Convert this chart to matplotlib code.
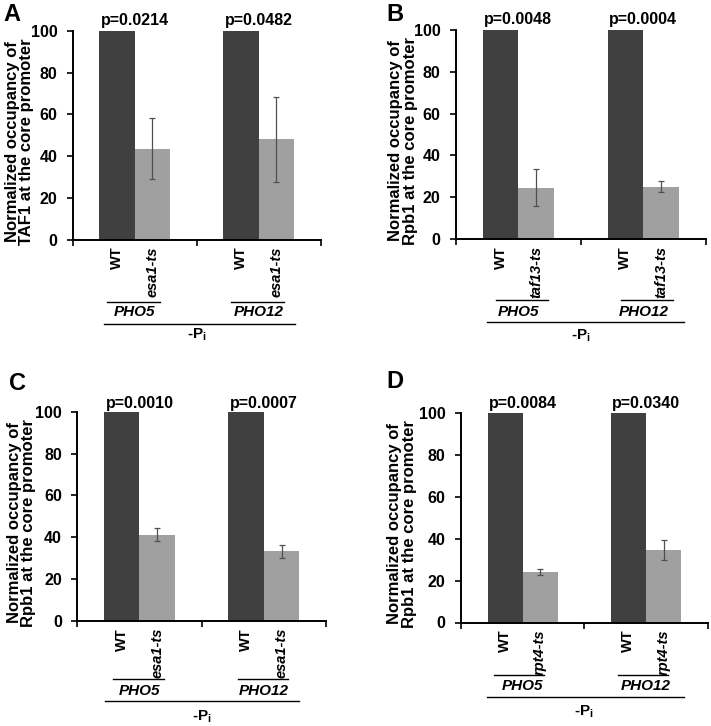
import matplotlib
matplotlib.use("Agg")
import matplotlib.pyplot as plt
import matplotlib.transforms as mtransforms

plt.rcParams['font.family'] = ['Liberation Sans', 'DejaVu Sans']
plt.rcParams['font.weight'] = 'bold'

# ---------------- data ----------------
groups = ['PHO5', 'PHO12']
panel_letters = ['A', 'B', 'C', 'D']
mutant_names = ['esa1-ts', 'taf13-ts', 'esa1-ts', 'rpt4-ts']
ylabels = ['Normalized occupancy of\nTAF1 at the core promoter',
           'Normalized occupancy of\nRpb1 at the core promoter',
           'Normalized occupancy of\nRpb1 at the core promoter',
           'Normalized occupancy of\nRpb1 at the core promoter']
wt_A = [100, 100]
wt_B = [100, 100]
wt_C = [100, 100]
wt_D = [100, 100]
mut_A = [43.6, 48.0]
mut_B = [24.6, 25.0]
mut_C = [41.3, 33.3]
mut_D = [24.0, 34.5]
err_A = [14.5, 20.5]
err_B = [9.0, 2.6]
err_C = [3.2, 3.0]
err_D = [1.3, 4.9]
pvals_A = ['p=0.0214', 'p=0.0482']
pvals_B = ['p=0.0048', 'p=0.0004']
pvals_C = ['p=0.0010', 'p=0.0007']
pvals_D = ['p=0.0084', 'p=0.0340']
yticks = [0, 20, 40, 60, 80, 100]
condition = '-P$_\\mathregular{i}$'

wt_all = [wt_A, wt_B, wt_C, wt_D]
mut_all = [mut_A, mut_B, mut_C, mut_D]
err_all = [err_A, err_B, err_C, err_D]
pv_all = [pvals_A, pvals_B, pvals_C, pvals_D]

# ---------------- layout (pixels) ----------------
W, H = 711, 726
rects = [(72.7, 320.7, 31, 239.5),
         (456, 705.7, 30, 239),
         (77.3, 326, 411.7, 621),
         (461, 707.6, 412.7, 622.5)]
letter_pos = [(3, 3), (386, 3), (9, 372), (386, 370)]
below = [(62, 73, 84, 95), (61, 73, 83, 97), (58, 70, 80, 96), (52, 64, 74, 89)]
under_ext = [(-0.22, 0.20), (-0.18, 0.24), (-0.21, 0.195), (-0.23, 0.175)]
long_ext = [(-0.25, 1.295), (-0.25, 1.33), (-0.275, 1.285), (-0.29, 1.31)]
ylab_x = [-53, -53, -56, -59]
pv_off = [10, 11, 8.5, 9.5]

WT_COLOR = '#404040'
MUT_COLOR = '#a0a0a0'
bw = 0.285

fig = plt.figure(figsize=(W / 100, H / 100), dpi=100)

for i in range(4):
    l, r, t, b = rects[i]
    ax = fig.add_axes([l / W, (H - b) / H, (r - l) / W, (b - t) / H])
    x = list(range(len(groups)))
    xw = [xi - bw / 2 for xi in x]
    xm = [xi + bw / 2 for xi in x]
    ax.bar(xw, wt_all[i], width=bw, color=WT_COLOR, zorder=2)
    ax.bar(xm, mut_all[i], width=bw, color=MUT_COLOR, zorder=2)
    ax.errorbar(xm, mut_all[i], yerr=err_all[i], fmt='none', ecolor='#505050',
                elinewidth=0.9, capsize=2.5, capthick=0.9, zorder=3)
    ax.set_xlim(-0.5, 1.5)
    ax.set_ylim(0, 100)
    for s in ['top', 'right']:
        ax.spines[s].set_visible(False)
    for s in ['left', 'bottom']:
        ax.spines[s].set_linewidth(1.4)
        ax.spines[s].set_color('black')
    ax.set_yticks(yticks)
    ax.set_yticklabels([str(v) for v in yticks], fontsize=11.5, fontweight='bold')
    ax.tick_params(axis='y', length=4, width=1.2, pad=7, direction='out')
    ax.set_xticks(xw + xm)
    ax.set_xticklabels(['WT'] * len(groups) + [mutant_names[i]] * len(groups),
                       rotation=90, fontsize=10.5, fontweight='bold', va='top', ha='center')
    for k, tl in enumerate(ax.get_xticklabels()):
        if k >= len(groups):
            tl.set_fontstyle('italic')
    ax.tick_params(axis='x', which='major', length=0, pad=5)
    ax.set_xticks([-0.5, 0.5, 1.5], minor=True)
    ax.tick_params(axis='x', which='minor', length=4, width=1.2, direction='out')

    axh = b - t
    axw = r - l
    ax.text(ylab_x[i] / axw, 0.47, ylabels[i], transform=ax.transAxes, rotation=90,
            ha='center', va='center', multialignment='center', fontsize=12,
            fontweight='bold', linespacing=0.95)

    for g in range(len(groups)):
        ax.annotate(pv_all[i][g], xy=(x[g], 100), xytext=(0, pv_off[i] * 0.72),
                    textcoords='offset points', ha='center', va='center',
                    fontsize=11.5, fontweight='bold', annotation_clip=False)

    trans = mtransforms.blended_transform_factory(ax.transData, ax.transAxes)
    u, gl, ll, cl = below[i]
    for g in range(len(groups)):
        ax.plot([x[g] + under_ext[i][0], x[g] + under_ext[i][1]], [-u / axh] * 2,
                transform=trans, color='black', lw=1.0, clip_on=False)
        ax.text(x[g], -gl / axh, groups[g], transform=trans, ha='center', va='center',
                fontsize=11, fontweight='bold', fontstyle='italic')
    ax.plot([long_ext[i][0], long_ext[i][1]], [-ll / axh] * 2, transform=trans,
            color='black', lw=1.0, clip_on=False)
    ax.text(0.5, -cl / axh, condition, transform=trans, ha='center', va='center',
            fontsize=11, fontweight='bold')

    fig.text(letter_pos[i][0] / W, 1 - letter_pos[i][1] / H, panel_letters[i],
             ha='left', va='top', fontsize=17, fontweight='bold')

fig.savefig('out.png', dpi=100)
